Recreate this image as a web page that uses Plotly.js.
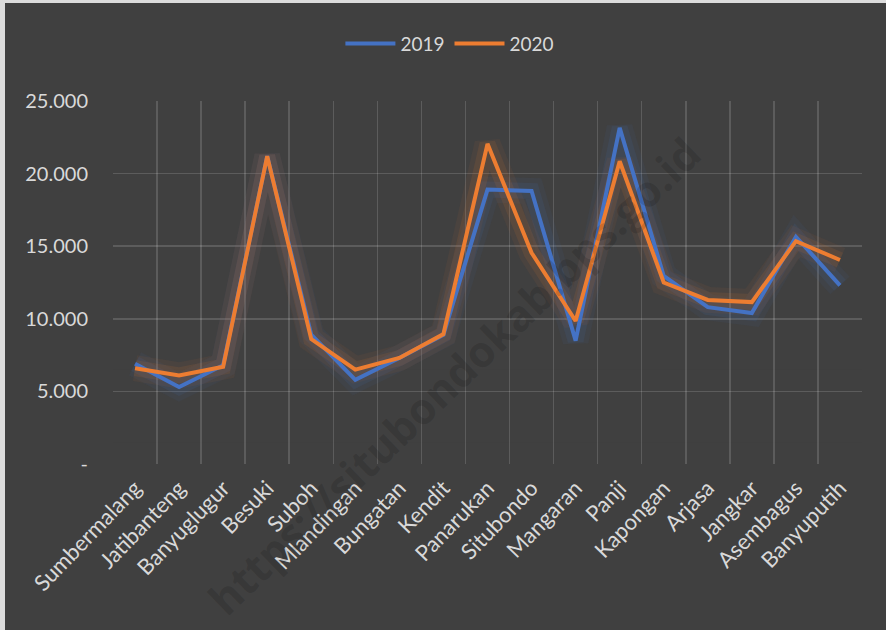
<!DOCTYPE html>
<html>
<head>
<meta charset="utf-8">
<script src="https://cdn.plot.ly/plotly-3.0.1.min.js"></script>
<style>
  html, body { margin: 0; padding: 0; background: #dcdcdc; width: 886px; height: 630px; overflow: hidden; }
  #chart { position: absolute; left: 5px; top: 3px; width: 881px; height: 627px; }
</style>
</head>
<body>
<div id="chart"></div>
<script>
const categories = ["Sumbermalang","Jatibanteng","Banyuglugur","Besuki","Suboh","Mlandingan","Bungatan","Kendit","Panarukan","Situbondo","Mangaran","Panji","Kapongan","Arjasa","Jangkar","Asembagus","Banyuputih"];
const values2019 = [6900, 5300, 6800, 21200, 8900, 5800, 7300, 8900, 18900, 18800, 8500, 23150, 12950, 10800, 10400, 15650, 12300];
const values2020 = [6600, 6100, 6700, 21200, 8600, 6500, 7300, 8950, 22050, 14550, 9850, 20850, 12500, 11300, 11150, 15350, 14050];
const seriesNames = ["2019", "2020"];
const yTickVals = [0, 5000, 10000, 15000, 20000, 25000];
const yTickText = ["-", "5.000", "10.000", "15.000", "20.000", "25.000"];

const blue = "#4472C4", orange = "#ED7D31";
function glow(vals, color, w, op) {
  return { x: categories, y: vals, type: "scatter", mode: "lines",
    line: { color: color, width: w }, opacity: op, showlegend: false, hoverinfo: "skip" };
}
const traces = [
  glow(values2019, blue, 26, 0.06), glow(values2019, blue, 16, 0.1),
  glow(values2020, orange, 26, 0.06), glow(values2020, orange, 16, 0.1),
  { x: categories, y: values2019, name: seriesNames[0], type: "scatter", mode: "lines", line: { color: blue, width: 4 } },
  { x: categories, y: values2020, name: seriesNames[1], type: "scatter", mode: "lines", line: { color: orange, width: 4 } }
];

const fadeSteps = [[9000, 0.15], [6500, 0.2], [4000, 0.25], [1500, 0.32]];
const shapes = fadeSteps.map(s => ({
  type: "rect", xref: "paper", yref: "y", x0: 0, x1: 1, y0: -300, y1: s[0],
  fillcolor: "rgba(64,64,64," + s[1] + ")", line: { width: 0 }, layer: "between"
}));

const layout = {
  width: 881, height: 627,
  paper_bgcolor: "#404040", plot_bgcolor: "#404040",
  margin: { l: 108, r: 24, t: 98, b: 166 },
  font: { family: "Lato, 'Noto Sans', sans-serif", color: "#d9d9d9", size: 15 },
  showlegend: true,
  legend: { orientation: "h", xref: "container", yref: "container", x: 0.505, xanchor: "center", y: 0.935, yanchor: "middle",
    font: { size: 19, color: "#d9d9d9" }, itemwidth: 50, bgcolor: "rgba(0,0,0,0)" },
  xaxis: { type: "category", range: [-0.5, 16.5], tickson: "boundaries", showgrid: true, gridcolor: "rgba(255,255,255,0.15)", gridwidth: 1.5,
    tickangle: -46, ticks: "", zeroline: false, showline: false, ticklabelstandoff: 6, tickfont: { size: 22, color: "#d9d9d9" }, fixedrange: true },
  yaxis: { range: [0, 25000], tickvals: yTickVals, ticktext: yTickText, showgrid: true, gridcolor: "rgba(255,255,255,0.15)", gridwidth: 1.5,
    zeroline: false, showline: false, ticks: "", ticklabelstandoff: 24, tickfont: { size: 20, color: "#d9d9d9" }, fixedrange: true },
  shapes: shapes,
  annotations: [{
    text: "https://situbondokab.bps.go.id", xref: "paper", yref: "paper", x: 0.455, y: 0.245, xanchor: "center", yanchor: "middle", showarrow: false,
    textangle: -44, font: { size: 43, color: "rgba(0,0,0,0.14)", family: "'Open Sans', sans-serif", weight: 700 }
  }]
};
Plotly.newPlot("chart", traces, layout, { displayModeBar: false, staticPlot: true });
</script>
</body>
</html>
